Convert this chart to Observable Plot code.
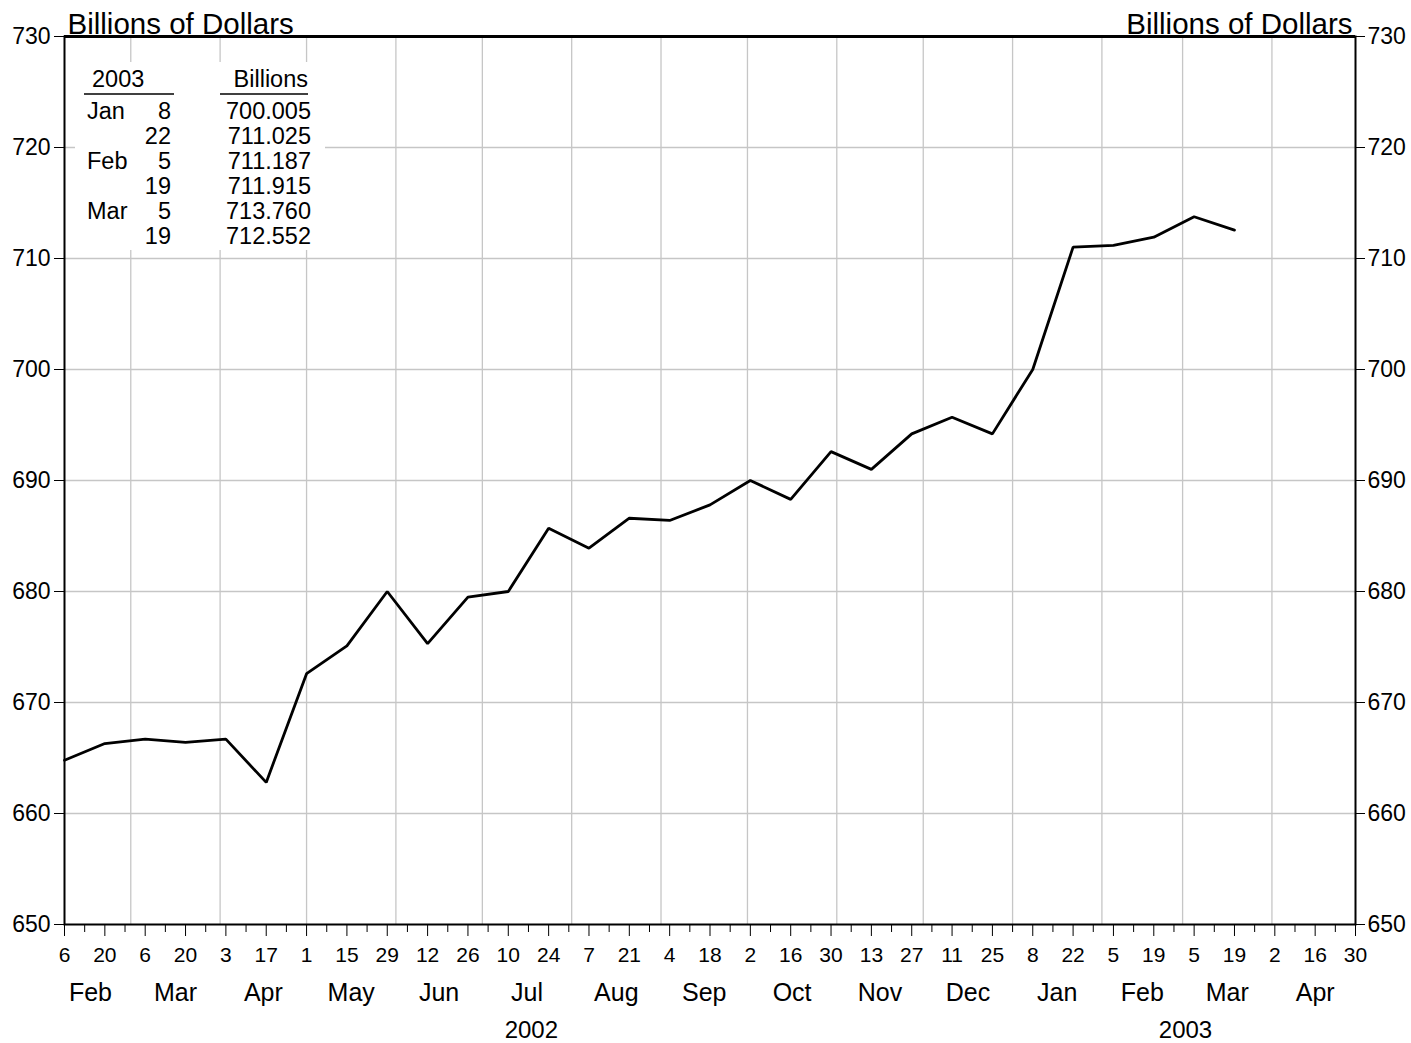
<!DOCTYPE html>
<html><head><meta charset="utf-8">
<script src="https://cdn.jsdelivr.net/npm/d3@7"></script>
<script src="https://cdn.jsdelivr.net/npm/@observablehq/plot@0.6"></script>
<style>body{margin:0;background:#fff} svg{display:block}</style>
</head><body><div id="chart"></div>
<script>
// ---- data ----
const dates = ["2002-02-06","2002-02-20","2002-03-06","2002-03-20","2002-04-03","2002-04-17","2002-05-01","2002-05-15","2002-05-29","2002-06-12","2002-06-26","2002-07-10","2002-07-24","2002-08-07","2002-08-21","2002-09-04","2002-09-18","2002-10-02","2002-10-16","2002-10-30","2002-11-13","2002-11-27","2002-12-11","2002-12-25","2003-01-08","2003-01-22","2003-02-05","2003-02-19","2003-03-05","2003-03-19"];
const values = [664.8,666.3,666.7,666.4,666.7,662.8,672.6,675.1,680.0,675.3,679.5,680.0,685.7,683.9,686.6,686.4,687.8,690.0,688.3,692.6,691.0,694.2,695.7,694.2,700.005,711.025,711.187,711.915,713.760,712.552];
const yTicks = [650,660,670,680,690,700,710,720,730];
const monthLabels = ["Feb","Mar","Apr","May","Jun","Jul","Aug","Sep","Oct","Nov","Dec","Jan","Feb","Mar","Apr"];
const monthStartsStr = ["2002-02-01","2002-03-01","2002-04-01","2002-05-01","2002-06-01","2002-07-01","2002-08-01","2002-09-01","2002-10-01","2002-11-01","2002-12-01","2003-01-01","2003-02-01","2003-03-01","2003-04-01","2003-05-01"];
const yearLabels = ["2002","2003"];
const yearSpans = [["2002-02-01","2003-01-01"],["2003-01-01","2003-05-01"]];
const tableHeader = ["2003","Billions"];
const tableMonths = ["Jan","","Feb","","Mar",""];
const tableDays = ["8","22","5","19","5","19"];
const tableValues = ["700.005","711.025","711.187","711.915","713.760","712.552"];
const axisLabel = "Billions of Dollars";

// ---- build ----
const x0 = new Date("2002-02-06"), x1 = new Date("2003-04-30");
const data = dates.map((d,i)=>({date:new Date(d), value:values[i]}));
const monthStarts = monthStartsStr.map(s=>new Date(s));
const gridMonths = monthStarts.slice(1, monthStarts.length-1);
const monthMids = monthLabels.map((l,i)=>({label:l, mid:new Date((+monthStarts[i] + +monthStarts[i+1])/2)}));
const yearMids = yearLabels.map((l,i)=>({label:l, mid:new Date((+new Date(yearSpans[i][0]) + +new Date(yearSpans[i][1]))/2)}));
const weekly = d3.utcDay.range(x0, new Date(+x1 + 86400000), 7);
const biweekly = d3.utcDay.range(x0, new Date(+x1 + 86400000), 14);
const minor = weekly.filter(d => !biweekly.some(b => +b === +d));
const FONT = "'Liberation Sans', Arial, Helvetica, sans-serif";

function legendBox(index, scales, values, dim) {
  const g = d3.create("svg:g").attr("font-family", FONT).attr("font-size", 23.5).attr("fill", "#000").attr("text-anchor", "start");
  const L = dim.marginLeft, T = dim.marginTop;
  g.append("rect").attr("x", L+11).attr("y", T+26).attr("width", 250).attr("height", 188).attr("fill", "#fff");
  g.append("text").attr("x", L+28).attr("y", T+51).attr("text-anchor","start").text(tableHeader[0]);
  g.append("text").attr("x", L+244).attr("y", T+51).attr("text-anchor","end").text(tableHeader[1]);
  g.append("line").attr("x1", L+20).attr("x2", L+110).attr("y1", T+58).attr("y2", T+58).attr("stroke","#000").attr("stroke-width",1.3);
  g.append("line").attr("x1", L+156).attr("x2", L+244).attr("y1", T+58).attr("y2", T+58).attr("stroke","#000").attr("stroke-width",1.3);
  tableValues.forEach((v,i) => {
    const y = T + 83 + i*24.9;
    if (tableMonths[i]) g.append("text").attr("x", L+23).attr("y", y).attr("text-anchor","start").text(tableMonths[i]);
    g.append("text").attr("x", L+107).attr("y", y).attr("text-anchor","end").text(tableDays[i]);
    g.append("text").attr("x", L+247).attr("y", y).attr("text-anchor","end").text(v);
  });
  return g.node();
}

const chart = Plot.plot({
  width: 1411, height: 1043,
  marginTop: 36, marginRight: 56, marginBottom: 119, marginLeft: 64,
  style: {fontFamily: FONT, background: "#fff", color: "#000"},
  x: {type: "utc", domain: [x0, x1]},
  y: {domain: [650, 730]},
  marks: [
    Plot.ruleY(yTicks.slice(1, -1), {stroke: "#c6c6c6", strokeWidth: 1.3}),
    Plot.ruleX(gridMonths, {stroke: "#c6c6c6", strokeWidth: 1.3}),
    legendBox,
    Plot.line(data, {x: "date", y: "value", stroke: "#000", strokeWidth: 2.8, strokeLinejoin: "miter"}),
    Plot.frame({stroke: "#000", strokeWidth: 2}),
    Plot.ruleY([730], {stroke: "#000", strokeWidth: 3}),
    Plot.axisY({anchor: "left", ticks: yTicks, tickSize: 10, tickPadding: 4, fontSize: 23, label: null}),
    Plot.axisY({anchor: "right", ticks: yTicks, tickSize: 9, tickPadding: 3, fontSize: 23, label: null}),
    Plot.axisX({ticks: minor, tickSize: 8, tickFormat: () => "", label: null}),
    Plot.axisX({ticks: biweekly, tickSize: 12, tickPadding: 11, tickFormat: d3.utcFormat("%-d"), fontSize: 21, label: null}),
    Plot.text(monthMids, {x: "mid", text: "label", frameAnchor: "bottom", dy: 76, fontSize: 25}),
    Plot.text(yearMids, {x: "mid", text: "label", frameAnchor: "bottom", dy: 113, fontSize: 24}),
    Plot.text([axisLabel], {frameAnchor: "top-left", textAnchor: "start", lineAnchor: "bottom", dx: 3, dy: -3, fontSize: 29.5}),
    Plot.text([axisLabel], {frameAnchor: "top-right", textAnchor: "end", lineAnchor: "bottom", dx: -3, dy: -3, fontSize: 29.5})
  ]
});
document.getElementById("chart").append(chart);
</script>
</body></html>
